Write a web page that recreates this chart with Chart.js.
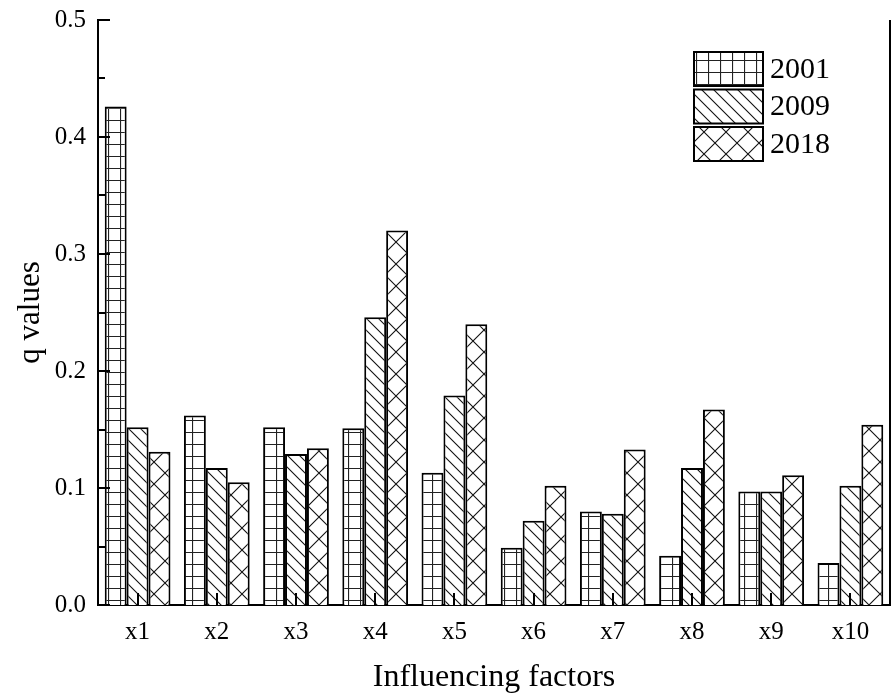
<!DOCTYPE html>
<html>
<head>
<meta charset="utf-8">
<script src="https://cdn.jsdelivr.net/npm/chart.js@4.4.1/dist/chart.umd.min.js"></script>
<style>
html,body{margin:0;padding:0;background:#fff;}
#wrap{width:893px;height:697px;}
</style>
</head>
<body>
<div id="wrap"><canvas id="c" width="893" height="697"></canvas></div>
<script>
const categories = ['x1','x2','x3','x4','x5','x6','x7','x8','x9','x10'];
const seriesNames = ['2001','2009','2018'];
const q2001 = [0.426, 0.162, 0.152, 0.151, 0.113, 0.049, 0.080, 0.042, 0.097, 0.036];
const q2009 = [0.152, 0.117, 0.129, 0.246, 0.179, 0.072, 0.078, 0.117, 0.097, 0.102];
const q2018 = [0.131, 0.105, 0.134, 0.320, 0.240, 0.102, 0.133, 0.167, 0.111, 0.154];
const yTicks = [0.0, 0.1, 0.2, 0.3, 0.4, 0.5];

const FONT = '"Liberation Serif", "Times New Roman", serif';

function makePattern(kind){
  const c = document.createElement('canvas');
  const ctx = c.getContext('2d');
  let s;
  if (kind === 'grid') {
    s = 12; c.width = s; c.height = s;
    ctx.fillStyle = '#fff'; ctx.fillRect(0,0,s,s);
    ctx.strokeStyle = '#222'; ctx.lineWidth = 1.2;
    ctx.beginPath();
    ctx.moveTo(0.5,0); ctx.lineTo(0.5,s);
    ctx.moveTo(0,0.5); ctx.lineTo(s,0.5);
    ctx.stroke();
  } else if (kind === 'back') {
    s = 12; c.width = s; c.height = s;
    ctx.fillStyle = '#fff'; ctx.fillRect(0,0,s,s);
    ctx.strokeStyle = '#111'; ctx.lineWidth = 1.1;
    ctx.beginPath();
    ctx.moveTo(-2,-2); ctx.lineTo(s+2,s+2);
    ctx.moveTo(-2,s-2); ctx.lineTo(2,s+2);
    ctx.moveTo(s-2,-2); ctx.lineTo(s+2,2);
    ctx.stroke();
  } else {
    s = 22; c.width = s; c.height = s;
    ctx.fillStyle = '#fff'; ctx.fillRect(0,0,s,s);
    ctx.strokeStyle = '#111'; ctx.lineWidth = 1.1;
    ctx.beginPath();
    ctx.moveTo(-2,-2); ctx.lineTo(s+2,s+2);
    ctx.moveTo(s+2,-2); ctx.lineTo(-2,s+2);
    ctx.stroke();
  }
  return ctx.createPattern(c,'repeat');
}
const patterns = [makePattern('grid'), makePattern('back'), makePattern('cross')];

const frameTicks = {
  id: 'frameTicks',
  afterDatasetsDraw(chart){
    const ctx = chart.ctx;
    const ca = chart.chartArea;
    const y = chart.scales.y, x = chart.scales.x;
    ctx.save();
    ctx.strokeStyle = '#000';
    ctx.lineWidth = 2;
    ctx.beginPath();
    ctx.moveTo(ca.right, ca.top); ctx.lineTo(ca.right, ca.bottom);
    for (let k = 0; k <= 10; k++) {
      const v = k * 0.05;
      const py = Math.round(y.getPixelForValue(v));
      const len = (k % 2 === 0) ? 12 : 7;
      ctx.moveTo(ca.left, py); ctx.lineTo(ca.left + len, py);
    }
    for (let i = 0; i < categories.length; i++) {
      const px = Math.round(x.getPixelForValue(i));
      ctx.moveTo(px, ca.bottom); ctx.lineTo(px, ca.bottom - 12);
    }
    ctx.stroke();
    ctx.restore();
  }
};

const boxLegend = {
  id: 'boxLegend',
  afterDraw(chart){
    const ctx = chart.ctx;
    const ds = chart.data.datasets;
    const x0 = 694, y0 = 52, w = 69, h = 34, gap = 3.5;
    ctx.save();
    ds.forEach((d, i) => {
      const yy = y0 + i*(h + gap);
      ctx.fillStyle = d.backgroundColor;
      ctx.fillRect(x0, yy, w, h);
      ctx.strokeStyle = '#000'; ctx.lineWidth = 2;
      ctx.strokeRect(x0, yy, w, h);
      ctx.fillStyle = '#000';
      ctx.font = '30px ' + FONT;
      ctx.textBaseline = 'middle';
      ctx.textAlign = 'left';
      ctx.fillText(d.label, x0 + w + 7, yy + h/2 + 1);
    });
    ctx.restore();
  }
};

new Chart(document.getElementById('c'), {
  type: 'bar',
  data: {
    labels: categories,
    datasets: [
      { label: seriesNames[0], data: q2001, backgroundColor: patterns[0], borderColor: '#000', borderWidth: 2 },
      { label: seriesNames[1], data: q2009, backgroundColor: patterns[1], borderColor: '#000', borderWidth: 2 },
      { label: seriesNames[2], data: q2018, backgroundColor: patterns[2], borderColor: '#000', borderWidth: 2 }
    ]
  },
  options: {
    responsive: false,
    animation: false,
    layout: { padding: { top: 20, right: 3, left: 0, bottom: 0 } },
    plugins: { legend: { display: false }, tooltip: { enabled: false } },
    datasets: { bar: { barPercentage: 1.0, categoryPercentage: 0.83 } },
    scales: {
      x: {
        grid: { display: false, drawTicks: false },
        border: { display: true, color: '#000', width: 2 },
        ticks: { color: '#000', font: { family: FONT, size: 25 }, padding: 12, maxRotation: 0 },
        title: { display: true, text: 'Influencing factors', color: '#000', font: { family: FONT, size: 32 }, padding: { top: 14, bottom: 0 } },
        afterFit(s){ s.height = 92; s.paddingLeft = 0; s.paddingRight = 0; }
      },
      y: {
        min: 0, max: 0.5,
        afterBuildTicks(s){ s.ticks = yTicks.map(v => ({ value: v })); },
        grid: { display: false, drawTicks: false },
        border: { display: true, color: '#000', width: 2 },
        ticks: { color: '#000', font: { family: FONT, size: 25 }, padding: 12, callback: v => Number(v).toFixed(1) },
        title: { display: true, text: 'q values', color: '#000', font: { family: FONT, size: 31 }, padding: { top: 12, bottom: 4 } },
        afterFit(s){ s.width = 98; s.paddingTop = 0; s.paddingBottom = 0; }
      }
    }
  },
  plugins: [frameTicks, boxLegend]
});
</script>
</body>
</html>
